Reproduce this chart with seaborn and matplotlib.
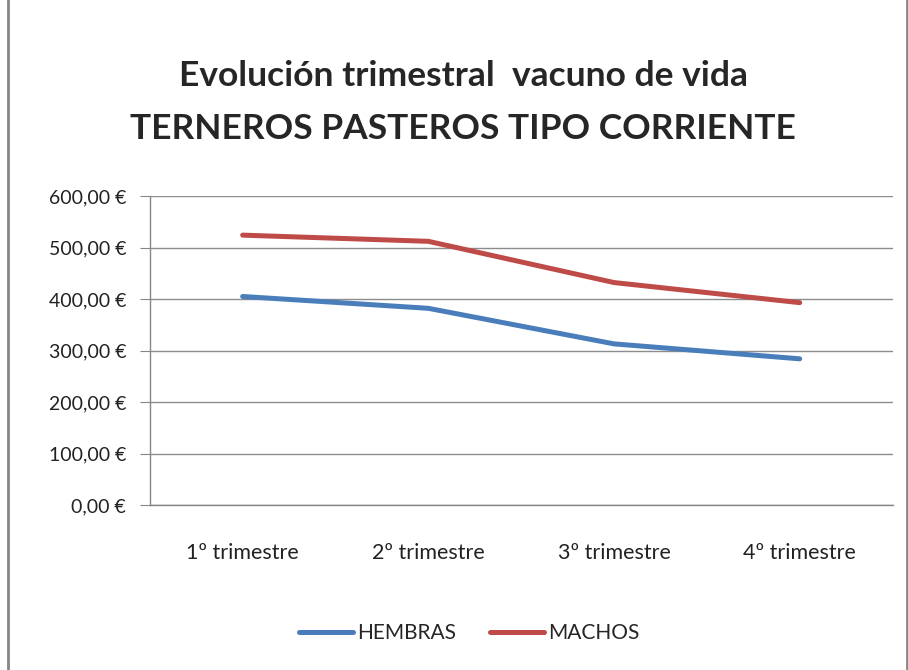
import pandas as pd
import matplotlib.pyplot as plt
import seaborn as sns
from matplotlib.patches import Rectangle
from matplotlib.lines import Line2D

# Data
trimestres = ["1º trimestre", "2º trimestre", "3º trimestre", "4º trimestre"]
hembras = [405, 382, 313, 284]
machos = [524, 512, 432, 393]

df = pd.DataFrame({
    "trimestre": trimestres * 2,
    "precio": hembras + machos,
    "sexo": ["HEMBRAS"] * 4 + ["MACHOS"] * 4,
})
df["pos"] = list(range(4)) * 2

sns.set_style("white")
plt.rcParams["font.family"] = ["Lato", "DejaVu Sans"]

fig = plt.figure(figsize=(9.08, 6.7), dpi=100)
ax = fig.add_axes([0.165, 0.246, 0.818, 0.4615])

sns.lineplot(data=df, x="pos", y="precio", hue="sexo",
             palette={"HEMBRAS": "#4A7EBB", "MACHOS": "#BE4B48"},
             linewidth=3.6, ax=ax, legend=False)
for line in ax.lines:
    line.set_solid_capstyle("round")

ax.set_xlim(-0.5, 3.5)
ax.set_ylim(0, 600)
ax.set_yticks(range(0, 601, 100))
ax.set_yticklabels([f"{v},00 €" for v in range(0, 601, 100)], fontsize=14, color="#222222")
ax.yaxis.grid(True, color="#8C8C8C", linewidth=1)
ax.set_axisbelow(True)

# category labels between the boundary ticks
ax.set_xticks([-0.5, 0.5, 1.5, 2.5, 3.5])
ax.set_xticklabels([])
ax.set_xticks(range(4), minor=True)
ax.set_xticklabels(trimestres, minor=True, fontsize=15.5, color="#222222")
ax.tick_params(axis="x", which="major", direction="out", length=7, color="#868686")
ax.tick_params(axis="x", which="minor", length=0, pad=27)
ax.tick_params(axis="y", direction="out", length=7, color="#868686", left=True, pad=10)
ax.set_xlabel("")
ax.set_ylabel("")

for side in ["top", "right"]:
    ax.spines[side].set_visible(False)
for side in ["left", "bottom"]:
    ax.spines[side].set_color("#868686")
    ax.spines[side].set_linewidth(1)

# title
fig.text(0.511, 0.886, "Evolución trimestral  vacuno de vida", ha="center", va="center",
         fontsize=25.5, fontweight="bold")
fig.text(0.51, 0.807, "TERNEROS PASTEROS TIPO CORRIENTE", ha="center", va="center",
         fontsize=25.5, fontweight="bold")

# legend
handles = [Line2D([], [], color="#4A7EBB", lw=3.6, solid_capstyle="round"),
           Line2D([], [], color="#BE4B48", lw=3.6, solid_capstyle="round")]
fig.legend(handles, ["HEMBRAS", "MACHOS"], loc="center", bbox_to_anchor=(0.517, 0.055),
           ncol=2, frameon=False, fontsize=15, handlelength=2.6, handletextpad=0.2,
           columnspacing=1.6)

# outer chart border
fig.patches.append(Rectangle((0.009, -0.01), 0.99, 1.02, transform=fig.transFigure,
                             fill=False, edgecolor="#868686", linewidth=2))

fig.savefig("out.png", dpi=100)
